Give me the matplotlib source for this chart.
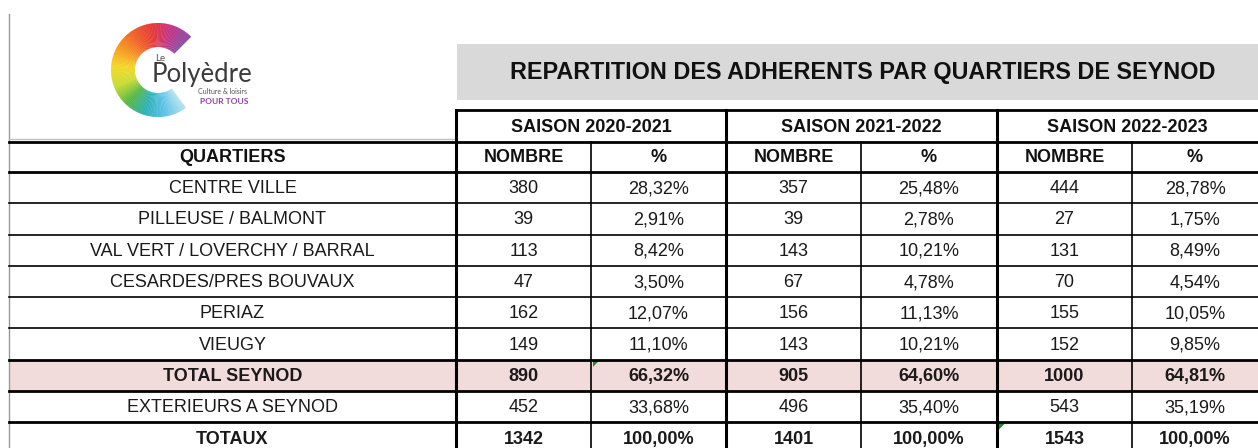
import matplotlib.pyplot as plt
import matplotlib.patches as mpatches
from matplotlib.colors import LinearSegmentedColormap
from matplotlib import font_manager

# table content
title = "REPARTITION DES ADHERENTS PAR QUARTIERS DE SEYNOD"
seasons = ["SAISON 2020-2021", "SAISON 2021-2022", "SAISON 2022-2023"]
quartiers = ["CENTRE VILLE", "PILLEUSE / BALMONT", "VAL VERT / LOVERCHY / BARRAL",
             "CESARDES/PRES BOUVAUX", "PERIAZ", "VIEUGY", "TOTAL SEYNOD",
             "EXTERIEURS A SEYNOD", "TOTAUX"]
nb_2021 = [380, 39, 113, 47, 162, 149, 890, 452, 1342]
pct_2021 = [28.32, 2.91, 8.42, 3.50, 12.07, 11.10, 66.32, 33.68, 100.00]
nb_2122 = [357, 39, 143, 67, 156, 143, 905, 496, 1401]
pct_2122 = [25.48, 2.78, 10.21, 4.78, 11.13, 10.21, 64.60, 35.40, 100.00]
nb_2223 = [444, 27, 131, 70, 155, 152, 1000, 543, 1543]
pct_2223 = [28.78, 1.75, 8.49, 4.54, 10.05, 9.85, 64.81, 35.19, 100.00]
bold_rows = ["TOTAL SEYNOD", "TOTAUX"]

names = {f.name for f in font_manager.fontManager.ttflist}
NARROW = 'Liberation Sans Narrow' in names
FONT = 'Liberation Sans Narrow' if NARROW else 'Liberation Sans'

fig = plt.figure(figsize=(12.58, 4.48), dpi=100)
ax = fig.add_axes([0, 0, 1, 1])
ax.set_xlim(0, 1258)
ax.set_ylim(448, 0)
ax.axis('off')

# geometry (pixels)
x_left, x_q = 9, 456
col_x = [456, 591, 726, 861, 997, 1132, 1258]
y_top, y_sub, y_head = 110, 142, 172
row_h = 31.3
rows_y = [y_head + i * row_h for i in range(len(quartiers) + 1)]

def fmt_pct(v):
    return f"{v:.2f}%".replace('.', ',')

# title box
ax.add_patch(mpatches.Rectangle((457, 44), 801, 56, color='#d9d9d9', lw=0))
ax.text(863, 73, title, ha='center', va='center', fontsize=20 if NARROW else 16.8,
        fontweight='bold', family=FONT, color='#111111')

# total seynod highlight
i_tot = quartiers.index("TOTAL SEYNOD")
ax.add_patch(mpatches.Rectangle((x_left, rows_y[i_tot]), 1258 - x_left, row_h,
                                color='#f2dcdb', lw=0))

# grid lines
ax.plot([x_left, x_left], [14, 448], color='#9a9a9a', lw=1)
ax.plot([x_left, x_q], [139, 139], color='#c0c0c0', lw=1)
ax.plot([x_q, 1258], [y_top, y_top], color='black', lw=2)
for y in [y_sub, y_head]:
    ax.plot([x_left, 1258], [y, y], color='black', lw=2)
for i, y in enumerate(rows_y[1:], start=1):
    thick = i >= i_tot
    ax.plot([x_left, 1258], [y, y], color='black', lw=2 if thick else 1.2)
for x in [456, 726, 997]:
    ax.plot([x, x], [y_top, 448], color='black', lw=2.2)
for x in [591, 861, 1132]:
    ax.plot([x, x], [y_sub, 448], color='black', lw=1.2)

# excel green corner marks
for cx, cy in [(592, rows_y[i_tot]), (998, rows_y[i_tot + 2])]:
    ax.add_patch(mpatches.Polygon([(cx + 1, cy + 1), (cx + 7, cy + 1), (cx + 1, cy + 7)],
                                  color='#1e8a2e', lw=0))

# headers
hd = dict(ha='center', va='center', fontsize=13, fontweight='bold', family=FONT, color='#111111')
for k, s in enumerate(seasons):
    xc = (col_x[2 * k] + col_x[2 * k + 2]) / 2
    ax.text(xc, (y_top + y_sub) / 2 + 1, s, **hd)
    ax.text((col_x[2 * k] + col_x[2 * k + 1]) / 2, (y_sub + y_head) / 2 + 1, "NOMBRE", **hd)
    ax.text((col_x[2 * k + 1] + col_x[2 * k + 2]) / 2, (y_sub + y_head) / 2 + 1, "%", **hd)
ax.text((x_left + x_q) / 2, (y_sub + y_head) / 2 + 1, "QUARTIERS", **hd)

# body
cols = [nb_2021, pct_2021, nb_2122, pct_2122, nb_2223, pct_2223]
for i, q in enumerate(quartiers):
    yc = rows_y[i] + row_h / 2 + 1
    w = 'bold' if q in bold_rows else 'normal'
    ax.text((x_left + x_q) / 2, yc, q, ha='center', va='center', fontsize=13,
            fontweight=w, family=FONT, color='#1a1a1a')
    for j, vals in enumerate(cols):
        s = fmt_pct(vals[i]) if j % 2 else str(vals[i])
        ax.text((col_x[j] + col_x[j + 1]) / 2, yc, s, ha='center', va='center', fontsize=13,
                fontweight=w, family=FONT, color='#1a1a1a')

# logo: rainbow ring
ring = LinearSegmentedColormap.from_list('ring', [
    '#8c4fa3', '#c2378a', '#e63a3a', '#f0612a', '#f79a22', '#f4d92a',
    '#c9dc35', '#58b947', '#2fb2b8', '#5fc3e6', '#b4e1f1'])
cx, cy, r_out, r_in = 158, 70, 47, 23
a_start, a_end = 45, 306
n = 120
for k in range(n):
    a1 = a_start + (a_end - a_start) * k / n
    a2 = a_start + (a_end - a_start) * (k + 1) / n + 0.6
    ax.add_patch(mpatches.Wedge((cx, cy), r_out, -a2, -a1, width=r_out - r_in,
                                color=ring(k / (n - 1)), lw=0))
ax.text(155, 61, "Le", fontsize=7, color='#555555', family='Lato', va='baseline')
ax.text(152, 82, "Polyèdre", fontsize=18.5, color='#3c3c3c', family='Lato', va='baseline')
ax.text(198, 94, "Culture & loisirs", fontsize=5, color='#555555', family='Lato', va='baseline')
ax.text(200, 104, "POUR TOUS", fontsize=6, color='#8e3fa0', family='Lato',
        fontweight='bold', va='baseline')

fig.savefig('out.png', dpi=100)
